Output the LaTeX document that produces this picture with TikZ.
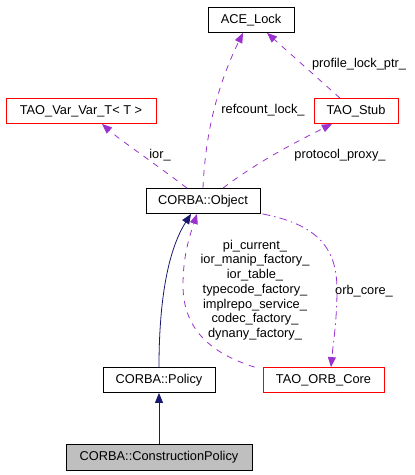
\documentclass[tikz,border=0pt]{standalone}
\usepackage{fontspec}
\setmainfont{Liberation Sans}
\usetikzlibrary{arrows.meta}
\definecolor{cbNavy}{RGB}{25,25,112}
\definecolor{cbPurple}{RGB}{154,50,205}
\definecolor{cbRed}{RGB}{255,0,0}
\definecolor{cbGray}{RGB}{191,191,191}

\begin{document}
\begin{tikzpicture}[x=1pt,y=-1pt,
  font=\fontsize{12.8}{14.7}\selectfont,
  cls/.style={draw=black, line width=0.8pt, minimum height=25pt, inner sep=0pt},
  ext/.style={cls, draw=cbRed},
  inherit/.style={cbNavy, line width=0.8pt, -{Triangle[length=10pt,width=8pt]}},
  usage/.style={cbPurple, line width=0.8pt, dash pattern=on 6pt off 6pt, -{Triangle[length=10pt,width=8pt]}},
  lbl/.style={inner sep=1pt, align=center}]
  \useasboundingbox (0,0) rectangle (415,475);

  % Classes
  \node[cls, minimum width=86pt] (aceLock) at (251,20) {ACE\_Lock};
  \node[ext, minimum width=150pt] (varVar) at (81,111) {TAO\_Var\_Var\_T< T >};
  \node[ext, minimum width=84pt] (stub) at (356,111) {TAO\_Stub};
  \node[cls, minimum width=114pt] (obj) at (203,201) {CORBA::Object};
  \node[cls, minimum width=112pt] (pol) at (159,380) {CORBA::Policy};
  \node[ext, minimum width=121pt] (orb) at (323.5,380) {TAO\_ORB\_Core};
  \node[cls, fill=cbGray, minimum width=186pt, minimum height=26pt] (cpol) at (159,457) {CORBA::ConstructionPolicy};

  % Inheritance
  \draw[inherit] (cpol.north) -- (pol.south);
  \draw[inherit] (pol.north) .. controls (159,300) and (168,250) .. ([xshift=-12pt]obj.south);

  % Members
  \draw[usage] (obj.north) .. controls (205,140) and (215,90) .. ([xshift=-8pt]aceLock.south);
  \draw[usage] ([xshift=-16pt]stub.north) -- ([xshift=16pt]aceLock.south);
  \draw[usage] ([xshift=-16pt]obj.north) .. controls (150,160) and (120,140) .. ([xshift=21pt]varVar.south);
  \draw[usage] ([xshift=20pt]obj.north) .. controls (260,160) and (300,140) .. ([xshift=-24pt]stub.south);
  \draw[usage, dash pattern=on 8pt off 4pt on 1.5pt off 4pt]
    ([xshift=2pt]obj.south east) .. controls (320,225) and (337,250) .. (337,290)
    .. controls (337,320) and (333,345) .. ([xshift=7.5pt]orb.north);
  \draw[usage] ([xshift=-8pt]orb.north west) .. controls (200,350) and (183,320) .. (183,285)
    .. controls (183,255) and (190,235) .. ([xshift=-6pt]obj.south);

  % Labels
  \node[lbl] (lRef) at (263,110) {refcount\_lock\_};
  \node[lbl] (lProf) at (359,64) {profile\_lock\_ptr\_};
  \node[lbl] (lIor) at (160,155) {ior\_};
  \node[lbl] (lProt) at (340,155) {protocol\_proxy\_};
  \node[lbl] (lOrb) at (364,291) {orb\_core\_};
  \node[lbl] (lMany) at (255,290) {pi\_current\_\\ior\_manip\_factory\_\\ior\_table\_\\typecode\_factory\_\\implrepo\_service\_\\codec\_factory\_\\dynany\_factory\_};
\end{tikzpicture}
\end{document}
